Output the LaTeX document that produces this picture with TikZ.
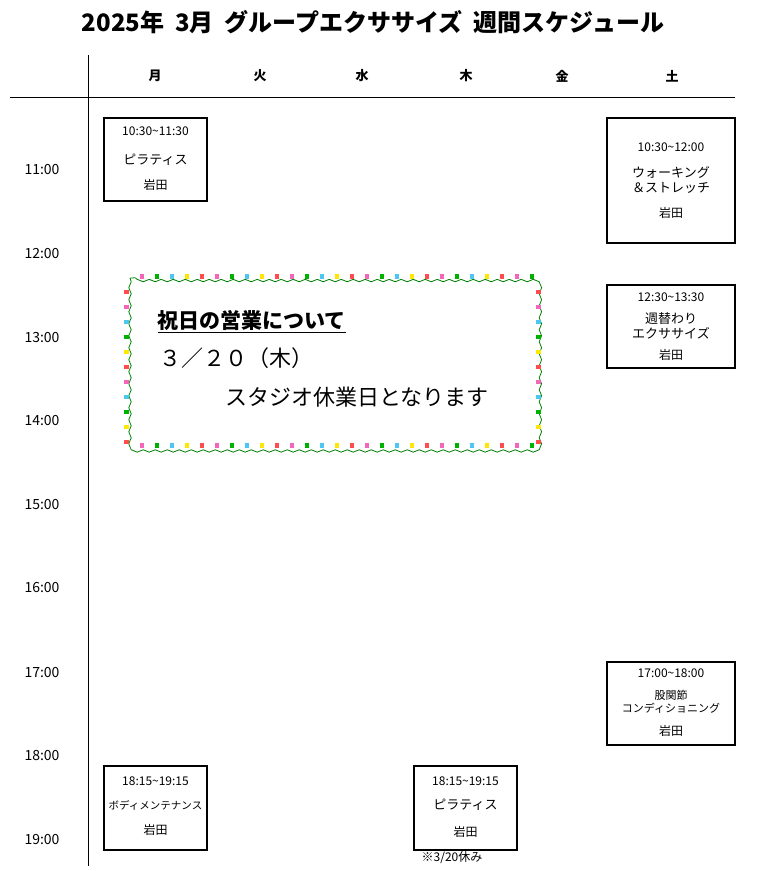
\documentclass[tikz,border=0pt]{standalone}
\usepackage{fontspec}
\setmainfont{Noto Sans CJK JP}
\usetikzlibrary{positioning,decorations.pathmorphing}
\tikzset{
  slot/.style={draw, very thick, align=center},
  small/.style={font=\fontsize{12}{14}\selectfont, align=center},
  hour/.style={font=\fontsize{14}{16}\selectfont},
  day/.style={font=\bfseries\fontsize{13}{15}\selectfont},
}
\newcommand{\classbox}[8]{%
  \draw[slot] (#1,#2) rectangle (#3,#4);
  \node[small] (#5a) at ({(#1+#3)/2},#6) {#7};
  \node[small] (#5b) at ({(#1+#3)/2},#8) {岩田};
}
\begin{document}
\begin{tikzpicture}[x=1pt,y=-1pt]
  \useasboundingbox (0,0) rectangle (772,871);
  \node[font=\bfseries\fontsize{24}{28}\selectfont] (title) at (373,22) {2025年\ \ 3月\ \ グループエクササイズ\ \ 週間スケジュール};

  % grid lines
  \draw[thick] (88,55) -- (88,866);
  \draw[thick] (10,97) -- (735,97);

  % days
  \foreach \x/\d in {155/月,260/火,362/水,466/木,562/金,672/土}
    \node[day] (day\x) at (\x,76) {\d};

  % hours
  \foreach \y/\h in {170/11,254/12,338/13,421/14,505/15,588/16,672/17,755/18,839/19}
    \node[hour] (h\h) at (42,\y) {\h:00};

  % classes
  \classbox{104}{118}{207}{201}{mona}{131}{10:30\textasciitilde11:30}{185}
  \node[small, font=\fontsize{13}{15}\selectfont] (mona2) at (155.5,160) {ピラティス};
  \classbox{607}{118}{735}{243}{sata}{147}{10:30\textasciitilde12:00}{213}
  \node[small, font=\fontsize{13}{15}\selectfont] (sata2) at (671,180) {ウォーキング\\＆ストレッチ};
  \classbox{607}{285}{735}{368}{satb}{297}{12:30\textasciitilde13:30}{355}
  \node[small, font=\fontsize{13}{15}\selectfont] (satb2) at (671,326) {週替わり\\エクササイズ};
  \classbox{607}{662}{735}{745}{satc}{673}{17:00\textasciitilde18:00}{731}
  \node[small, font=\fontsize{11}{13}\selectfont] (satc2) at (671,702) {股関節\\コンディショニング};
  \classbox{104}{766}{207}{850}{monb}{781}{18:15\textasciitilde19:15}{830}
  \node[small, font=\fontsize{10.5}{12}\selectfont] (monb2) at (155.5,805) {ボディメンテナンス};
  \classbox{414}{766}{517}{850}{thu}{781}{18:15\textasciitilde19:15}{832}
  \node[small, font=\fontsize{13}{15}\selectfont] (thu2) at (465.5,805) {ピラティス};
  \node[small] (note) at (452,858) {※3/20休み};

  % holiday notice with lights
  \draw[green!50!black, thick, decorate, decoration={snake, amplitude=1.2pt, segment length=12pt}]
    (130,278) rectangle (540,446);
  \foreach \i [evaluate=\i as \c using {int(mod(\i,5))}] in {0,...,26} {
    \ifcase\c \def\bc{magenta!60}\or\def\bc{green!70!black}\or\def\bc{cyan!70}\or\def\bc{yellow!90!orange}\or\def\bc{red!70}\fi
    \fill[\bc] ({140+\i*15},274) rectangle +(4,5);
    \fill[\bc] ({140+\i*15},443) rectangle +(4,5);
  }
  \foreach \i [evaluate=\i as \c using {int(mod(\i,5))}] in {0,...,10} {
    \ifcase\c \def\bc{red!70}\or\def\bc{magenta!60}\or\def\bc{cyan!70}\or\def\bc{green!70!black}\or\def\bc{yellow!90!orange}\fi
    \fill[\bc] (124,{290+\i*15}) rectangle +(5,4);
    \fill[\bc] (536,{290+\i*15}) rectangle +(5,4);
  }
  \node[anchor=west, font=\bfseries\fontsize{21}{24}\selectfont] (notice) at (154,322) {\underline{祝日の営業について}};
  \node[anchor=west, font=\fontsize{22}{26}\selectfont] (date) at (156,358) {３／２０（木）};
  \node[anchor=west, font=\fontsize{22}{26}\selectfont] (closed) at (222,397) {スタジオ休業日となります};
\end{tikzpicture}
\end{document}
